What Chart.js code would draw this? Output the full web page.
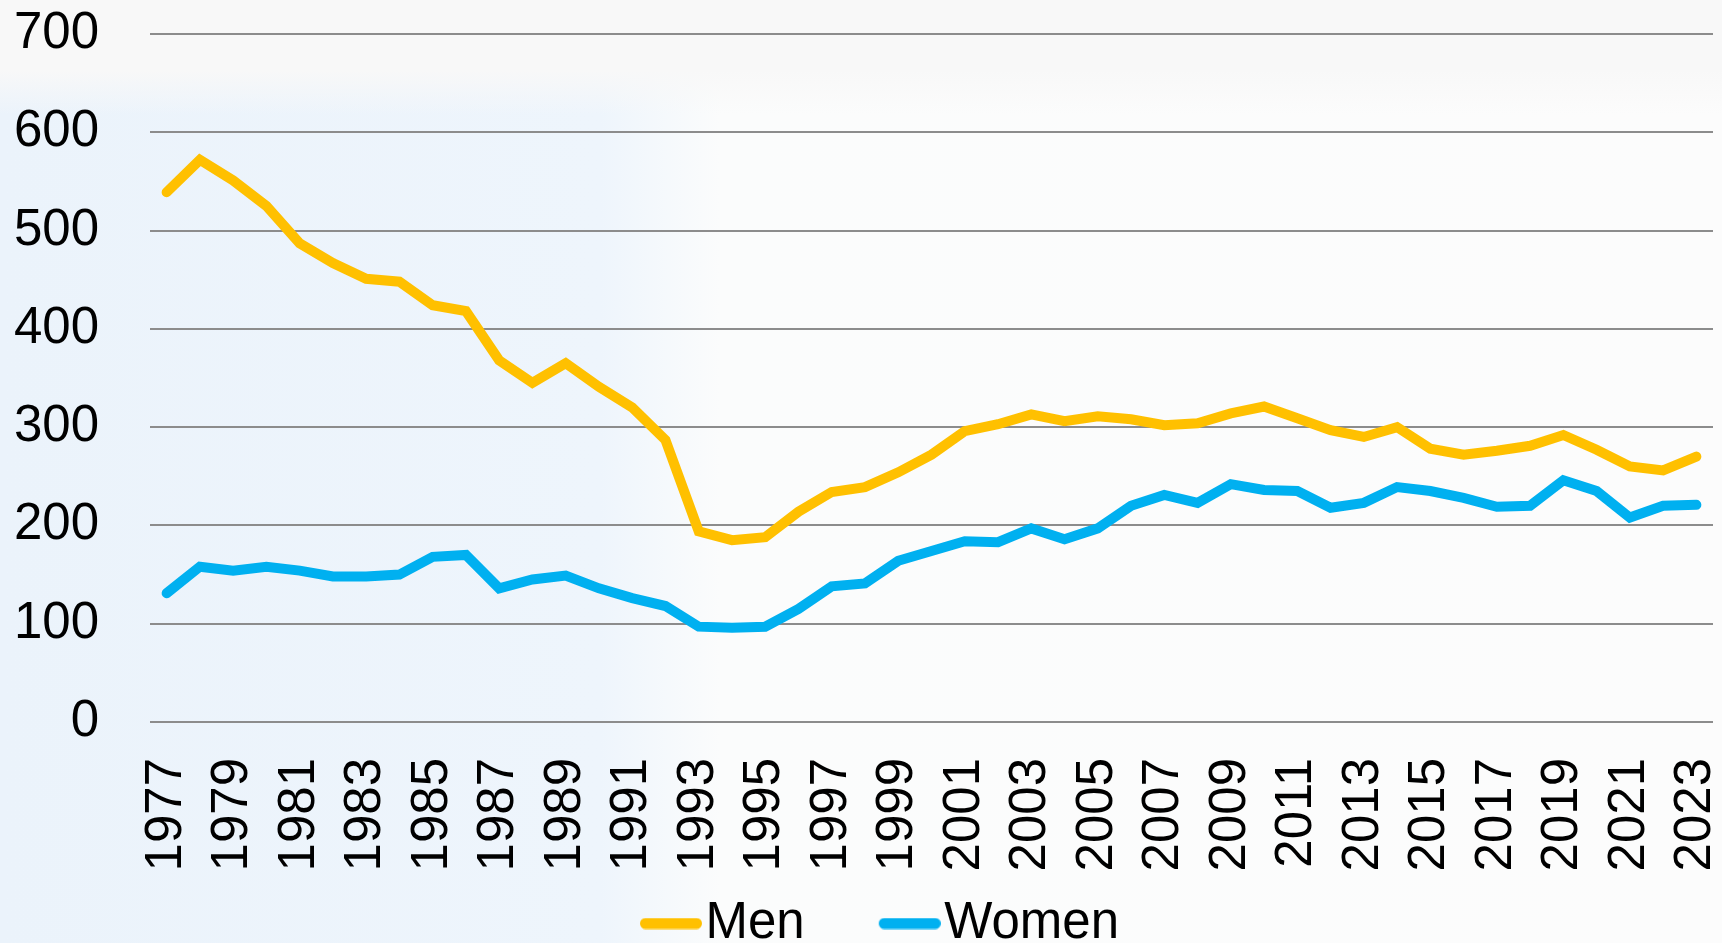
<!DOCTYPE html>
<html>
<head>
<meta charset="utf-8">
<title>Men / Women 1977-2023</title>
<script src="https://cdn.jsdelivr.net/npm/chart.js@4.4.1/dist/chart.umd.min.js"></script>
<style>
    html, body {
        margin: 0;
        padding: 0;
        overflow: hidden;
    }
    body {
        width: 1722px;
        height: 943px;
        background:
            linear-gradient(180deg, #f8f8f8 0, #f8f8f8 70px, rgba(248, 248, 248, 0) 115px),
            linear-gradient(90deg, #ebf3fb 0, #eef5fc 600px, #fbfcfc 720px, #fcfcfc 100%);
    }
    canvas { display: block; }
</style>
</head>
<body>
<canvas id="chart" width="1722" height="943"></canvas>

<script>
// ================= DATA =================
const years = [
    "1977", "1978", "1979", "1980", "1981", "1982", "1983", "1984", "1985", "1986",
    "1987", "1988", "1989", "1990", "1991", "1992", "1993", "1994", "1995", "1996",
    "1997", "1998", "1999", "2000", "2001", "2002", "2003", "2004", "2005", "2006",
    "2007", "2008", "2009", "2010", "2011", "2012", "2013", "2014", "2015", "2016",
    "2017", "2018", "2019", "2020", "2021", "2022", "2023"
];

const men = [
    539, 572, 551, 525, 487, 467, 451, 448, 424, 418,
    368, 345, 365, 341, 320, 287, 194, 185, 188, 214,
    234, 239, 254, 272, 296, 303, 313, 306, 311, 308,
    302, 304, 314, 321, 309, 297, 290, 300, 278, 272,
    276, 281, 292, 277, 260, 256, 270
];

const women = [
    131, 158, 154, 158, 154, 148, 148, 150, 168, 170,
    136, 145, 149, 136, 126, 118, 97, 96, 97, 115,
    138, 141, 164, 174, 184, 183, 197, 186, 197, 220,
    231, 223, 242, 236, 235, 218, 223, 239, 235, 228,
    219, 220, 246, 235, 208, 220, 221
];

const seriesNames = ["Men", "Women"];
const seriesColors = ["#FFC000", "#00B0F0"];
const yTicks = [0, 100, 200, 300, 400, 500, 600, 700];

const FONT = { family: "'Liberation Sans', Arial, sans-serif", size: 51 };

// ================= LEGEND MARKERS =================
// short thick line drawn at the right end of a wider transparent image,
// so it sits right next to the legend text
function makeMarker(color) {
    const c = document.createElement("canvas");
    c.width = 148;
    c.height = 12;
    const ctx = c.getContext("2d");
    ctx.strokeStyle = color;
    ctx.lineWidth = 11;
    ctx.lineCap = "round";
    ctx.beginPath();
    ctx.moveTo(86 + 5.5, 6);
    ctx.lineTo(148 - 5.5, 6);
    ctx.stroke();
    return c;
}
const markers = seriesColors.map(makeMarker);

// ================= CHART =================
const lineStyle = {
    borderWidth: 10,
    tension: 0,
    borderCapStyle: "round",
    borderJoinStyle: "miter",
    pointRadius: 0,
    pointHoverRadius: 0
};

new Chart(document.getElementById("chart"), {
    type: "line",
    data: {
        labels: years,
        datasets: [
            {
                label: seriesNames[0],
                data: men,
                borderColor: seriesColors[0],
                backgroundColor: seriesColors[0],
                ...lineStyle
            },
            {
                label: seriesNames[1],
                data: women,
                borderColor: seriesColors[1],
                backgroundColor: seriesColors[1],
                ...lineStyle
            }
        ]
    },
    options: {
        responsive: false,
        animation: false,
        devicePixelRatio: 1,
        layout: {
            padding: { left: -18, right: 9, top: 34, bottom: -16 }
        },
        scales: {
            x: {
                offset: true,
                grid: { display: false, drawTicks: false },
                border: { display: false },
                ticks: {
                    autoSkip: false,
                    minRotation: 90,
                    maxRotation: 90,
                    padding: 36,
                    color: "#000",
                    font: FONT,
                    callback: (val, i) => (i % 2 === 0 ? years[i] : "")
                },
                afterFit: scale => {
                    scale.height = 166;
                    scale.paddingLeft = 0;
                    scale.paddingRight = 0;
                }
            },
            y: {
                min: yTicks[0],
                max: yTicks[yTicks.length - 1],
                grid: {
                    color: "#8c8c8c",
                    lineWidth: 2,
                    drawTicks: false
                },
                border: { display: false },
                afterBuildTicks: scale => {
                    scale.ticks = yTicks.map(v => ({ value: v }));
                },
                ticks: {
                    padding: 51,
                    color: "#000",
                    font: FONT
                },
                afterFit: scale => {
                    scale.width = 168;
                    scale.paddingTop = 0;
                    scale.paddingBottom = 0;
                }
            }
        },
        plugins: {
            legend: {
                position: "bottom",
                labels: {
                    usePointStyle: true,
                    pointStyleWidth: 104,
                    padding: 10,
                    color: "#000",
                    font: FONT,
                    generateLabels: chart => {
                        const items = Chart.defaults.plugins.legend.labels.generateLabels(chart);
                        return items.map(it => ({ ...it, pointStyle: markers[it.datasetIndex] }));
                    }
                }
            },
            tooltip: { enabled: false }
        }
    }
});
</script>
</body>
</html>
